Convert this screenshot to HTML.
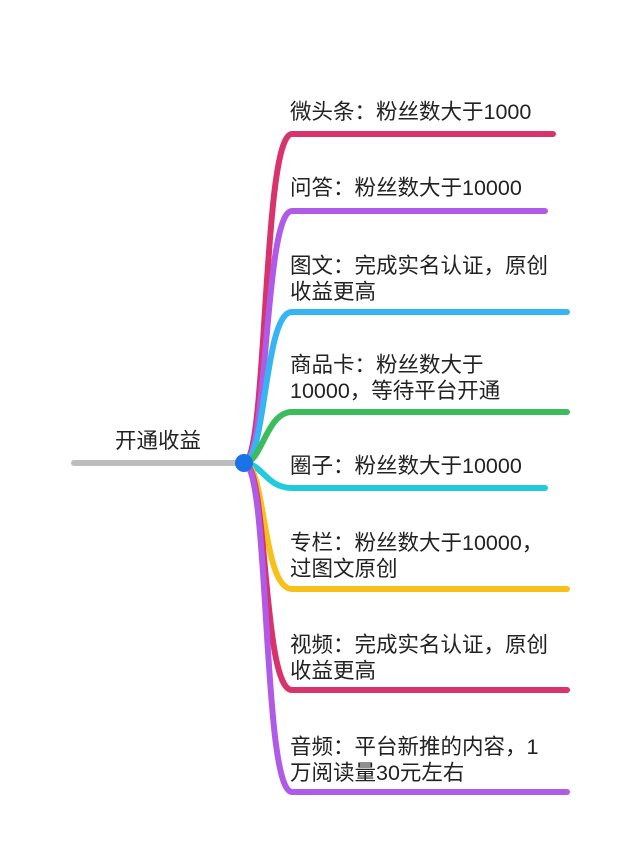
<!DOCTYPE html>
<html><head><meta charset="utf-8"><style>
body{margin:0;background:#fff;width:640px;height:865px;overflow:hidden;position:relative;font-family:"Liberation Sans","Noto Sans CJK SC",sans-serif;}
.t{position:absolute;left:290px;font-size:21.5px;line-height:26px;color:#222;white-space:nowrap;}
</style></head><body>
<svg width="640" height="865" style="position:absolute;left:0;top:0" fill="none" stroke-width="6" stroke-linecap="round">
<line x1="74" y1="463" x2="244" y2="463" stroke="#bdbdbd"/>
<path d="M244 463 C268 463 262 134 292 134 L553 134" stroke="#d8336a"/>
<path d="M244 463 C268 463 264 211 292 211 L545 211" stroke="#b05be8"/>
<path d="M244 463 C266 463 264 312 292 312 L567 312" stroke="#35b6f2"/>
<path d="M244 463 C262 463 266 412 292 412 L567 412" stroke="#3bbd5c"/>
<path d="M244 463 C262 463 266 488 292 488 L545 488" stroke="#22cbdc"/>
<path d="M244 463 C266 463 262 589 292 589 L567 589" stroke="#f7c11a"/>
<path d="M244 463 C268 463 262 690 292 690 L567 690" stroke="#d8336a"/>
<path d="M244 463 C270 463 262 792 292 792 L567 792" stroke="#b05be8"/>
<circle cx="244" cy="463" r="9" fill="#1a73e8" stroke="none"/>
</svg>
<div class="t" style="left:115px;top:428px">开通收益</div>
<div class="t" style="top:99px">微头条：粉丝数大于1000</div>
<div class="t" style="top:175px">问答：粉丝数大于10000</div>
<div class="t" style="top:253px">图文：完成实名认证，原创<br>收益更高</div>
<div class="t" style="top:352px">商品卡：粉丝数大于<br>10000，等待平台开通</div>
<div class="t" style="top:453px">圈子：粉丝数大于10000</div>
<div class="t" style="top:530px">专栏：粉丝数大于10000，<br>过图文原创</div>
<div class="t" style="top:632px">视频：完成实名认证，原创<br>收益更高</div>
<div class="t" style="top:734px">音频：平台新推的内容，1<br>万阅读量30元左右</div>
</body></html>
